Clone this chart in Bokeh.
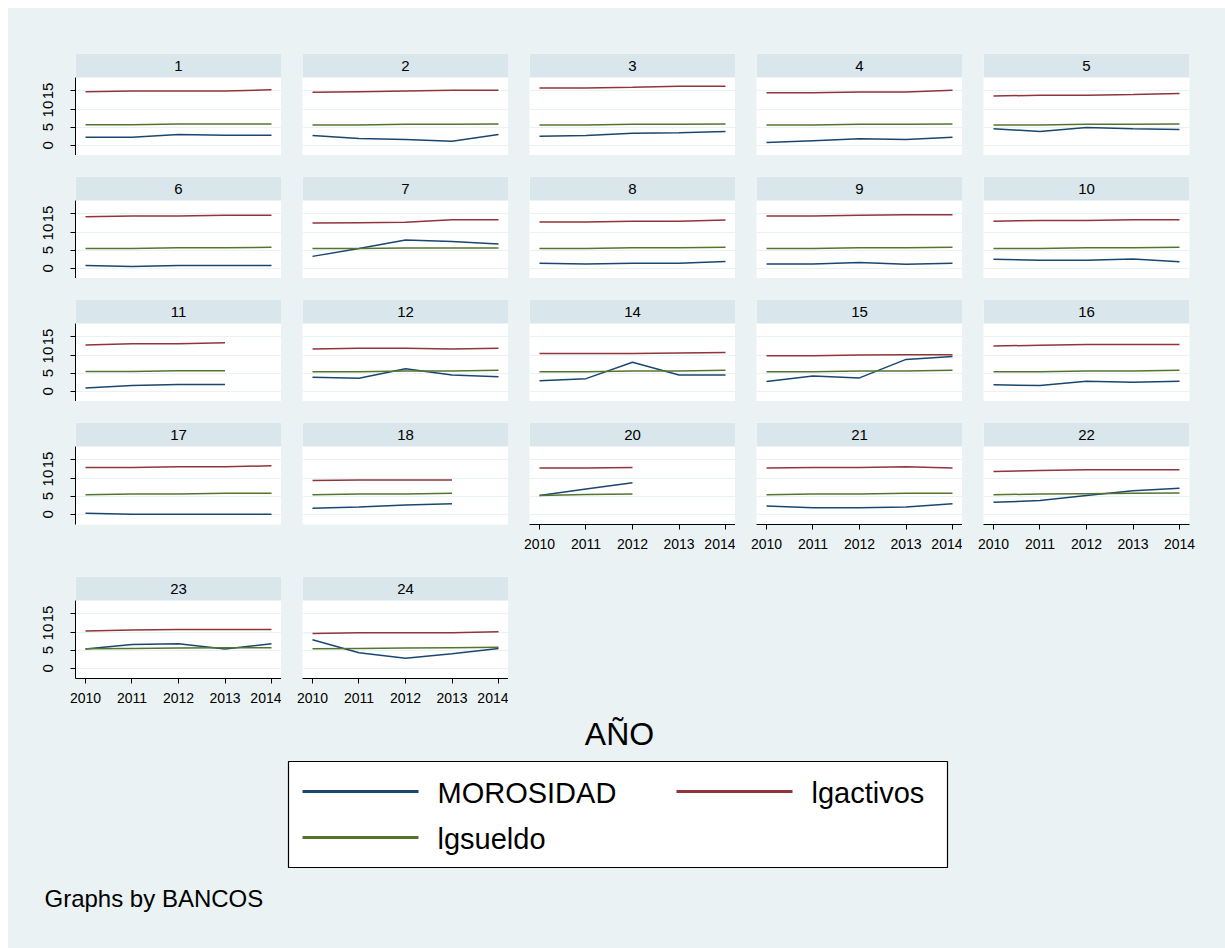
from bokeh.plotting import figure
from bokeh.layouts import row, column
from bokeh.models import Range1d, LinearAxis, FixedTicker, Grid, BoxAnnotation, Label
from bokeh.core.properties import value
from bokeh.embed import file_html
from bokeh.resources import INLINE

# ---------------- data ----------------
YEARS = [2010, 2011, 2012, 2013, 2014]
BANK_ROWS = [[1, 2, 3, 4, 5], [6, 7, 8, 9, 10], [11, 12, 14, 15, 16], [17, 18, 20, 21, 22], [23, 24]]

MOROSIDAD = {
    1: [2.2, 2.2, 3.0, 2.8, 2.8],
    2: [2.7, 1.9, 1.6, 1.1, 3.0],
    3: [2.5, 2.7, 3.3, 3.5, 3.8],
    4: [0.8, 1.3, 1.8, 1.6, 2.2],
    5: [4.6, 3.8, 4.9, 4.6, 4.4],
    6: [0.8, 0.5, 0.8, 0.8, 0.8],
    7: [3.3, 5.5, 7.8, 7.4, 6.7],
    8: [1.4, 1.2, 1.4, 1.4, 1.9],
    9: [1.2, 1.2, 1.6, 1.1, 1.4],
    10: [2.5, 2.2, 2.2, 2.6, 1.8],
    11: [0.9, 1.6, 1.9, 1.9],
    12: [3.9, 3.6, 6.2, 4.5, 4.0],
    14: [2.9, 3.5, 8.0, 4.5, 4.5],
    15: [2.7, 4.2, 3.7, 8.8, 9.6],
    16: [1.8, 1.6, 2.8, 2.5, 2.8],
    17: [0.3, 0.05, 0.05, 0.05, 0.05],
    18: [1.7, 2.0, 2.6, 2.9],
    20: [5.2, 7.0, 8.7],
    21: [2.3, 1.8, 1.8, 2.0, 2.9],
    22: [3.3, 3.8, 5.2, 6.5, 7.2],
    23: [5.3, 6.6, 6.8, 5.3, 6.8],
    24: [7.9, 4.3, 2.8, 4.0, 5.5],
}
LGACTIVOS = {
    1: [14.8, 15.0, 15.0, 15.0, 15.3],
    2: [14.6, 14.8, 15.0, 15.2, 15.2],
    3: [15.8, 15.8, 16.0, 16.3, 16.3],
    4: [14.5, 14.5, 14.7, 14.7, 15.2],
    5: [13.6, 13.8, 13.8, 14.0, 14.3],
    6: [14.2, 14.4, 14.4, 14.6, 14.6],
    7: [12.5, 12.6, 12.7, 13.4, 13.4],
    8: [12.8, 12.8, 13.0, 13.0, 13.3],
    9: [14.4, 14.4, 14.6, 14.8, 14.8],
    10: [13.0, 13.2, 13.2, 13.4, 13.4],
    11: [12.8, 13.1, 13.1, 13.4],
    12: [11.7, 11.9, 11.9, 11.7, 11.9],
    14: [10.4, 10.4, 10.4, 10.6, 10.7],
    15: [9.8, 9.8, 10.0, 10.1, 10.1],
    16: [12.5, 12.7, 12.9, 12.9, 12.9],
    17: [12.9, 12.9, 13.1, 13.1, 13.4],
    18: [9.3, 9.5, 9.5, 9.5],
    20: [12.8, 12.8, 12.9],
    21: [12.8, 12.9, 12.9, 13.1, 12.8],
    22: [11.8, 12.1, 12.3, 12.3, 12.3],
    23: [10.3, 10.6, 10.7, 10.7, 10.7],
    24: [9.6, 9.8, 9.8, 9.8, 10.1],
}
LGSUELDO = {
    1: [5.7, 5.7, 5.9, 5.9, 5.9],
    2: [5.6, 5.6, 5.8, 5.8, 5.9],
    3: [5.6, 5.6, 5.8, 5.8, 5.9],
    4: [5.6, 5.6, 5.8, 5.8, 5.9],
    5: [5.6, 5.6, 5.8, 5.8, 5.9],
    6: [5.5, 5.5, 5.7, 5.7, 5.8],
    7: [5.5, 5.5, 5.6, 5.6, 5.6],
    8: [5.5, 5.5, 5.7, 5.7, 5.8],
    9: [5.5, 5.5, 5.7, 5.7, 5.8],
    10: [5.5, 5.5, 5.7, 5.7, 5.8],
    11: [5.5, 5.5, 5.7, 5.7],
    12: [5.4, 5.4, 5.6, 5.6, 5.8],
    14: [5.4, 5.4, 5.6, 5.6, 5.8],
    15: [5.4, 5.4, 5.6, 5.6, 5.8],
    16: [5.4, 5.4, 5.6, 5.6, 5.8],
    17: [5.4, 5.6, 5.6, 5.8, 5.8],
    18: [5.4, 5.6, 5.6, 5.8],
    20: [5.2, 5.5, 5.6],
    21: [5.4, 5.6, 5.6, 5.8, 5.8],
    22: [5.4, 5.6, 5.7, 5.8, 5.9],
    23: [5.4, 5.5, 5.6, 5.7, 5.7],
    24: [5.4, 5.5, 5.6, 5.7, 5.8],
}
SERIES_NAMES = ["MOROSIDAD", "lgactivos", "lgsueldo"]
Y_TICKS = [0, 5, 10, 15]
TITLE_X = "AÑO"
NOTE = "Graphs by BANCOS"

# ---------------- style ----------------
FONT = "Liberation Sans"
BG = "#eaf2f3"
STRIP = "#d9e6eb"
GRID = "#eaf2f3"
NAVY = "#1a476f"
MAROON = "#90353b"
FOREST = "#55752f"
COLORS = [NAVY, MAROON, FOREST]

X0, X1 = 2009.785, 2014.215
Y0, YTOP = -2.8, 18.7
PLOT_H, STRIP_H = 78, 24
SCALE = PLOT_H / (YTOP - Y0)
Y1 = YTOP + STRIP_H / SCALE
FRAME_W, FRAME_H = 206, PLOT_H + STRIP_H

COL_LEFT = [67, 21, 21, 21, 21]
COL_RIGHT = [0, 0, 0, 0, 36]
ROW_TOP = [45, 21, 21, 21, 21]
ROW_BOTTOM = [0, 0, 0, 31, 32]
TOTAL_W = 1217
BOTTOM_H = 238


def make_panel(bank, ci, ri, show_x, show_y):
    w = COL_LEFT[ci] + FRAME_W + COL_RIGHT[ci]
    h = ROW_TOP[ri] + FRAME_H + ROW_BOTTOM[ri]
    p = figure(width=w, height=h, x_range=Range1d(X0, X1), y_range=Range1d(Y0, Y1),
               x_axis_location=None, y_axis_location=None,
               toolbar_location=None, output_backend="svg",
               min_border_left=COL_LEFT[ci], min_border_right=COL_RIGHT[ci],
               min_border_top=ROW_TOP[ri], min_border_bottom=ROW_BOTTOM[ri],
               background_fill_color="white", border_fill_color=BG,
               outline_line_color=None)
    p.xgrid.visible = False
    p.ygrid.visible = False
    p.add_layout(Grid(dimension=1, ticker=FixedTicker(ticks=Y_TICKS),
                      grid_line_color=GRID, grid_line_width=1.2))
    # strip
    p.add_layout(BoxAnnotation(bottom=YTOP, top=Y1, left=X0, right=X1,
                               fill_color=STRIP, fill_alpha=1.0, line_color=None))
    p.add_layout(Label(x=(X0 + X1) / 2, y=YTOP + (Y1 - YTOP) / 2, text=str(bank),
                       text_align="center", text_baseline="middle",
                       text_font=FONT, text_font_size="15px", text_color="black"))
    for series, color in zip([MOROSIDAD, LGACTIVOS, LGSUELDO], COLORS):
        vals = series[bank]
        p.line(YEARS[:len(vals)], vals, line_color=color, line_width=1.5)
    if show_y:
        ax = LinearAxis(ticker=FixedTicker(ticks=Y_TICKS), bounds=(Y0, YTOP),
                        major_label_orientation="vertical",
                        major_tick_out=5, major_tick_in=0, minor_tick_out=0, minor_tick_in=0,
                        axis_line_color="black", major_tick_line_color="black",
                        major_label_text_font=FONT, major_label_text_font_size="15px",
                        major_label_text_color="black", major_label_standoff=17)
        p.add_layout(ax, "left")
    if show_x:
        ax = LinearAxis(ticker=FixedTicker(ticks=YEARS),
                        major_tick_out=5, major_tick_in=0, minor_tick_out=0, minor_tick_in=0,
                        axis_line_color="black", major_tick_line_color="black",
                        major_label_text_font=FONT, major_label_text_font_size="14px",
                        major_label_text_color="black", major_label_standoff=9)
        p.add_layout(ax, "below")
    return p


rows = []
for ri, banks in enumerate(BANK_ROWS):
    figs = []
    for ci, b in enumerate(banks):
        show_x = (ri == 4) or (ri == 3 and ci >= 2)
        figs.append(make_panel(b, ci, ri, show_x, ci == 0))
    used = sum(COL_LEFT[c] + FRAME_W + COL_RIGHT[c] for c in range(len(banks)))
    if used < TOTAL_W:
        h = ROW_TOP[ri] + FRAME_H + ROW_BOTTOM[ri]
        filler = figure(width=TOTAL_W - used, height=h, toolbar_location=None,
                        output_backend="svg", x_axis_location=None, y_axis_location=None,
                        min_border=0, background_fill_color=BG, border_fill_color=BG,
                        outline_line_color=None, x_range=Range1d(0, 1), y_range=Range1d(0, 1))
        filler.xgrid.visible = False
        filler.ygrid.visible = False
        filler.scatter([0.5], [0.5], size=0, alpha=0)
        figs.append(filler)
    rows.append(row(*figs, styles={"background-color": BG}))

# bottom area: axis title, legend, note (coordinates are page pixels)
bot = figure(width=TOTAL_W, height=BOTTOM_H, x_range=Range1d(8, 8 + TOTAL_W),
             y_range=Range1d(710 + BOTTOM_H, 710),
             toolbar_location=None, output_backend="svg", x_axis_location=None,
             y_axis_location=None, min_border=0, background_fill_color=BG,
             border_fill_color=BG, outline_line_color=None)
bot.xgrid.visible = False
bot.ygrid.visible = False
bot.text([619], [733], text=[TITLE_X], text_align="center", text_baseline="middle",
         text_font=value(FONT), text_font_size="32px", text_color="black")
bot.quad(left=[288], right=[947], top=[761], bottom=[867], fill_color="white",
         line_color="black", line_width=1.2)
KEY_X = [302, 676, 302]
KEY_Y = [791, 791, 837]
for name, color, kx, ky in zip(SERIES_NAMES, COLORS, KEY_X, KEY_Y):
    bot.segment(x0=[kx], y0=[ky], x1=[kx + 116], y1=[ky], line_color=color, line_width=3)
    bot.text([kx + 135], [ky + 1], text=[name], text_align="left", text_baseline="middle",
             text_font=value(FONT), text_font_size="29px", text_color="black")
bot.text([44], [898], text=[NOTE], text_align="left", text_baseline="middle",
         text_font=value(FONT), text_font_size="24px", text_color="black")

layout = column(*rows, bot, margin=(8, 0, 0, 8), styles={"background-color": BG})

open("out.html", "w").write(file_html(layout, INLINE))
